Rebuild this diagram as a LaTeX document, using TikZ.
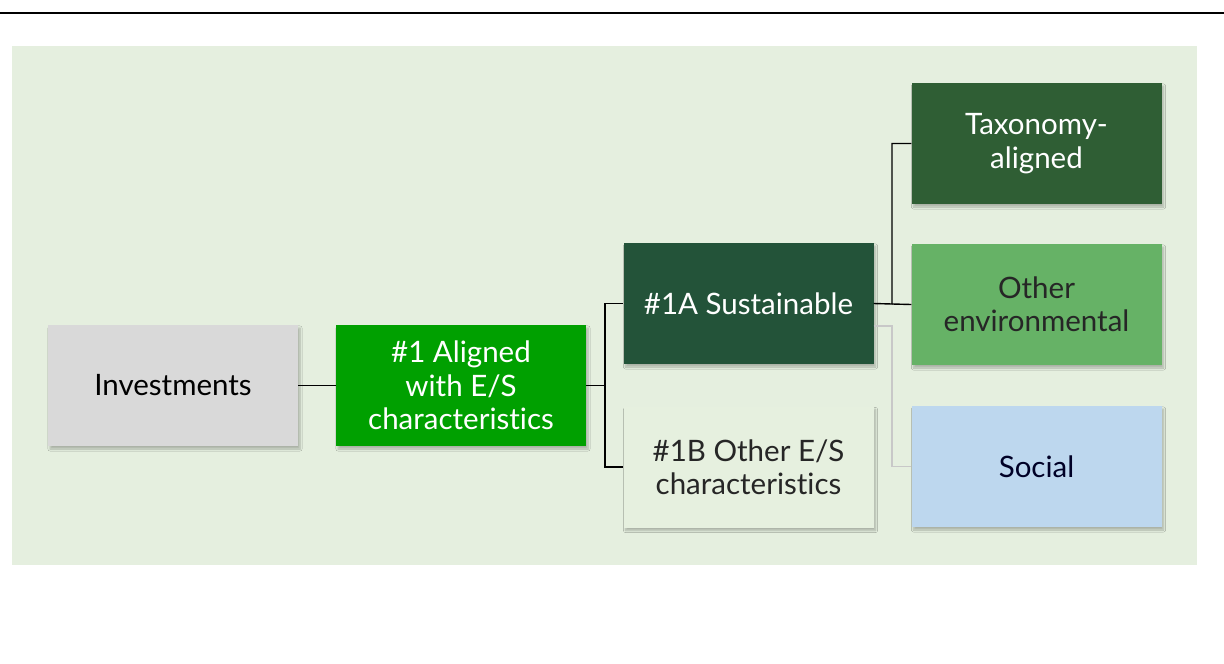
\documentclass[tikz,border=0pt]{standalone}
\usepackage{fontspec}
\setmainfont{Lato}[Ligatures=NoCommon]
\usetikzlibrary{shadows.blur,positioning}
\definecolor{bgg}{HTML}{E5EFDF}
\definecolor{invg}{HTML}{D9D9D9}
\definecolor{algn}{HTML}{00A000}
\definecolor{sust}{HTML}{235339}
\definecolor{othb}{HTML}{E6F0DF}
\definecolor{taxo}{HTML}{2F5E34}
\definecolor{oenv}{HTML}{66B266}
\definecolor{soc}{HTML}{BDD7EE}
\definecolor{graylink}{HTML}{C8C8C8}
\tikzset{
  box/.style={minimum width=250pt, minimum height=121pt, inner sep=0pt, align=center,
    font=\fontsize{29.5}{33.5}\selectfont,
    blur shadow={shadow xshift=2pt, shadow yshift=-3pt, shadow blur steps=6, shadow opacity=25}},
  link/.style={line width=1.4pt, black},
  glink/.style={line width=1.4pt, graylink},
}
\begin{document}
\begin{tikzpicture}[x=1pt,y=-1pt]
\useasboundingbox (0,0) rectangle (1224,664);
\fill[white] (0,0) rectangle (1224,664);
\draw[line width=2.2pt] (0,13) -- (1224,13);
\fill[bgg] (12,46) rectangle (1197,565);

\node[box, fill=invg, text=black] (inv) at (173,385.5) {Investments};
\node[box, fill=algn, text=white] (al) at (461,385.5) {\#1 Aligned\\with E/S\\characteristics};
\node[box, fill=sust, text=white] (sus) at (748.5,303.5) {\#1A Sustainable};
\node[box, fill=othb, text=black!85] (oth) at (748.5,467) {\#1B Other E/S\\characteristics};
\node[box, fill=taxo, text=white] (tax) at (1036.5,143.5) {Taxonomy-\\aligned};
\node[box, fill=oenv, text=black!85] (env) at (1036.5,304.5) {Other\\environmental};
\node[box, fill=soc, text=black!85!blue] (soc) at (1036.5,466.5) {Social};

\coordinate (j1) at (605,385.5);
\coordinate (j2) at (892,304);
\coordinate (j3) at (892,326);

\draw[link] (inv.east) -- (al.west);
\draw[link] (al.east) -- (j1) |- (sus.west);
\draw[link] (j1) |- (oth.west);
\draw[link] (sus.east) -- (j2) |- (tax.west);
\draw[link] (j2) -- (env.west);
\draw[glink] (sus.east |- j3) -- (j3) |- (soc.west);
\end{tikzpicture}
\end{document}
